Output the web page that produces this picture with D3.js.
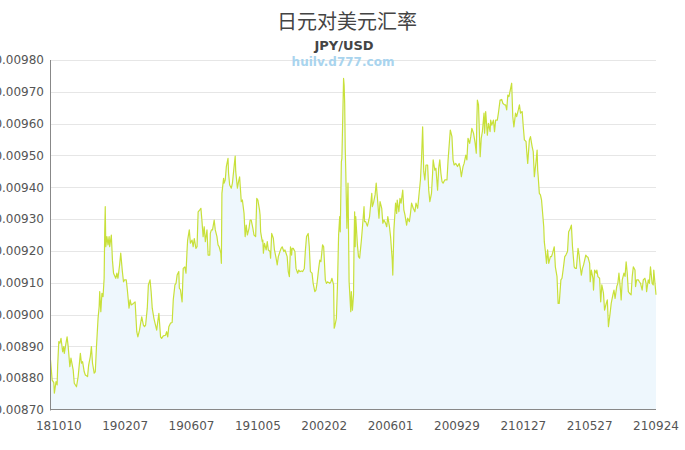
<!DOCTYPE html>
<html><head><meta charset="utf-8">
<script src="https://cdn.jsdelivr.net/npm/d3@7/dist/d3.min.js"></script>
<style>body{margin:0;background:#fff}svg{display:block}</style>
</head><body>
<svg id="chart" width="685" height="450"></svg>
<script>
// ---- data ----
const startDate = "2018-09-25";
const dayOffsets = [
0,3,6,7,10,12,13,15,17,19,22,24,25,28,30,32,35,37,41,43,47,50,54,56,58,61,63,67,69,72,74,76,79,81,83,86,88,89,91,93,95,97,98,99,100,102,104,106,107,110,112,114,118,120,122,125,127,130,132,134,137,139,142,144,146,150,153,156,158,161,163,165,168,170,172,175,177,
180,182,184,187,189,192,196,199,201,204,208,210,212,214,217,220,222,225,227,229,232,233,235,238,240,243,245,247,248,251,253,256,258,260,263,265,267,270,272,274,276,278,280,283,285,288,289,291,293,296,298,301,303,305,308,309,310,313,314,316,318,321,322,324,327,329,332,334,335,338,340,342,345,347,350,352,354,356,359,361,363,366,368,371,373,
375,378,379,380,383,384,385,387,390,392,394,397,398,400,403,405,408,410,412,415,417,419,422,424,428,430,432,434,436,437,439,442,444,447,449,451,454,456,459,461,463,466,468,470,473,475,478,480,482,485,487,489,492,494,497,499,501,505,507,509,512,513,514,517,519,521,523,524,526,527,530,531,532,533,534,536,538,540,543,544,546,548,549,550,551,552,555,557,559,562,564,567,568,570,
573,575,577,581,582,584,587,589,591,594,596,599,601,603,606,608,610,613,615,618,619,621,624,626,627,630,632,634,637,639,641,644,646,649,651,653,656,659,661,664,666,669,671,673,675,677,679,682,684,686,689,691,692,695,697,700,702,704,706,708,710,713,715,717,719,721,723,726,728,730,733,736,739,741,743,746,748,751,753,755,758,760,762,765,
768,770,771,772,774,777,779,781,784,785,787,790,792,795,796,798,801,803,805,808,810,813,816,818,821,823,825,827,829,831,834,835,836,838,841,843,846,848,850,853,855,857,860,861,863,866,868,871,873,875,878,880,881,882,884,886,888,892,893,895,897,899,901,904,906,908,911,913,916,918,920,923,925,927,930,932,935,937,939,942,944,947,949,951,
954,956,958,960,962,964,966,968,970,972,975,976,978,981,982,984,987,988,990,993,995,997,1000,1002,1005,1007,1008,1009,1012,1014,1017,1019,1021,1024,1026,1028,1031,1032,1034,1037,1039,1041,1043,1045,1047,1050,1052,1054,1057,1058,1060,1063,1065,1067,1070,1072,1075,1077,1078,1081,1083,1085,1088,1090,1091,1095
];
const rates = [
0.008857,0.008794,0.008786,0.008753,0.008789,0.008779,0.008841,0.008915,0.008910,0.008925,0.008883,0.008899,0.008878,0.008910,0.008930,0.008899,0.008836,0.008863,0.008826,0.008784,0.008773,0.008805,0.008878,0.008847,0.008852,0.008820,0.008810,0.008805,0.008841,0.008868,0.008899,0.008847,0.008816,0.008820,0.008894,0.008988,0.009025,0.009072,0.009009,0.009067,0.009056,0.009114,0.009255,0.009339,0.009213,0.009245,0.009219,0.009245,0.009213,0.009250,0.009171,0.009130,0.009114,0.009130,0.009114,0.009156,0.009193,0.009135,0.009103,0.009109,0.009109,0.009077,0.009020,0.009046,0.009030,0.009035,0.009040,0.008946,0.008930,0.008951,0.008973,0.008993,0.008967,0.008962,0.008967,0.009020,0.009093,
0.009109,0.009072,0.009020,0.008988,0.008973,0.008951,0.009004,0.008930,0.008925,0.008933,0.008935,0.008946,0.008930,0.008962,0.008973,0.008975,0.009046,0.009093,0.009098,0.009124,0.009135,0.009083,0.009078,0.009040,0.009145,0.009150,0.009130,0.009203,0.009234,0.009266,0.009224,0.009234,0.009213,0.009239,0.009208,0.009213,0.009323,0.009329,0.009334,0.009292,0.009245,0.009276,0.009229,0.009266,0.009187,0.009187,0.009255,0.009266,0.009266,0.009297,0.009266,0.009245,0.009219,0.009213,0.009193,0.009161,0.009381,0.009428,0.009413,0.009423,0.009465,0.009491,0.009444,0.009407,0.009397,0.009413,0.009465,0.009498,0.009449,0.009397,0.009418,0.009433,0.009355,0.009360,0.009318,0.009245,0.009281,0.009250,0.009271,0.009297,0.009297,0.009271,0.009250,0.009245,0.009365,
0.009360,0.009329,0.009313,0.009260,0.009229,0.009234,0.009193,0.009224,0.009203,0.009229,0.009203,0.009198,0.009177,0.009255,0.009240,0.009203,0.009177,0.009156,0.009182,0.009198,0.009208,0.009213,0.009198,0.009203,0.009182,0.009135,0.009119,0.009213,0.009187,0.009208,0.009208,0.009198,0.009145,0.009130,0.009140,0.009135,0.009137,0.009135,0.009145,0.009203,0.009245,0.009255,0.009213,0.009135,0.009130,0.009098,0.009072,0.009077,0.009098,0.009145,0.009171,0.009166,0.009219,0.009213,0.009109,0.009098,0.009103,0.009098,0.009103,0.009114,0.009093,0.008957,0.008962,0.008988,0.009093,0.009250,0.009308,0.009260,0.009480,0.009491,0.009742,0.009721,0.009664,0.009522,0.009449,0.009271,0.009413,0.009103,0.009009,0.009072,0.009014,0.009062,0.009229,0.009323,0.009213,0.009308,0.009219,0.009182,0.009177,0.009229,0.009271,0.009339,0.009292,0.009292,
0.009278,0.009292,0.009308,0.009381,0.009339,0.009350,0.009376,0.009413,0.009371,0.009303,0.009355,0.009334,0.009287,0.009297,0.009287,0.009276,0.009308,0.009276,0.009245,0.009171,0.009124,0.009266,0.009350,0.009318,0.009360,0.009323,0.009365,0.009350,0.009391,0.009329,0.009313,0.009281,0.009303,0.009292,0.009318,0.009350,0.009334,0.009323,0.009350,0.009334,0.009370,0.009423,0.009491,0.009590,0.009449,0.009423,0.009470,0.009470,0.009391,0.009355,0.009381,0.009444,0.009486,0.009454,0.009460,0.009391,0.009460,0.009486,0.009444,0.009418,0.009413,0.009423,0.009423,0.009423,0.009486,0.009533,0.009580,0.009559,0.009486,0.009470,0.009475,0.009465,0.009475,0.009460,0.009433,0.009465,0.009475,0.009501,0.009486,0.009554,0.009538,0.009559,0.009585,0.009570,
0.009538,0.009507,0.009611,0.009674,0.009660,0.009496,0.009554,0.009575,0.009633,0.009570,0.009638,0.009564,0.009601,0.009575,0.009611,0.009595,0.009611,0.009575,0.009611,0.009611,0.009633,0.009674,0.009676,0.009664,0.009659,0.009659,0.009643,0.009690,0.009685,0.009701,0.009727,0.009674,0.009622,0.009590,0.009633,0.009622,0.009643,0.009659,0.009633,0.009638,0.009590,0.009549,0.009544,0.009517,0.009475,0.009549,0.009559,0.009528,0.009512,0.009433,0.009480,0.009517,0.009454,0.009433,0.009381,0.009376,0.009360,0.009276,0.009229,0.009198,0.009161,0.009203,0.009161,0.009182,0.009182,0.009193,0.009213,0.009150,0.009119,0.009035,0.009035,0.009109,0.009114,0.009140,0.009182,0.009187,0.009198,0.009260,0.009266,0.009281,0.009213,0.009150,0.009145,0.009145,
0.009208,0.009187,0.009150,0.009124,0.009145,0.009156,0.009171,0.009187,0.009182,0.009180,0.009161,0.009103,0.009140,0.009114,0.009077,0.009140,0.009130,0.009140,0.009119,0.009114,0.009040,0.009093,0.009067,0.009014,0.009035,0.009046,0.009004,0.008962,0.009004,0.009035,0.009062,0.009077,0.009051,0.009088,0.009098,0.009130,0.009072,0.009046,0.009109,0.009130,0.009120,0.009166,0.009130,0.009072,0.009067,0.009062,0.009119,0.009150,0.009140,0.009088,0.009109,0.009109,0.009103,0.009098,0.009077,0.009109,0.009114,0.009098,0.009072,0.009109,0.009098,0.009150,0.009098,0.009093,0.009140,0.009062
];
const tickLabels = ["181010","190207","190607","191005","200202","200601","200929","210127","210527","210924"];
const yTicks = [0.0087,0.0088,0.0089,0.0090,0.0091,0.0092,0.0093,0.0094,0.0095,0.0096,0.0097,0.0098];
const titleText = "日元对美元汇率";
const subtitleText = "JPY/USD";
const watermarkText = "huilv.d777.com";

// ---- drawing ----
(function () {
  const svg = d3.select("#chart");
  const mLeft = 50.5, mRight = 656, mTop = 60, mBottom = 410;
  const t0 = d3.utcParse("%Y-%m-%d")(startDate);
  const parseTick = d3.utcParse("%y%m%d");
  const points = dayOffsets.map((d, i) => ({date: d3.utcDay.offset(t0, d), v: rates[i]}));

  const x = d3.scaleUtc().domain(d3.extent(points, p => p.date)).range([mLeft, mRight]);
  const y = d3.scaleLinear().domain([d3.min(yTicks), d3.max(yTicks)]).range([mBottom, mTop]);

  const font = "'DejaVu Sans', Verdana, sans-serif";

  // gridlines
  svg.append("g").selectAll("line").data(yTicks.slice(1)).join("line")
    .attr("x1", mLeft).attr("x2", mRight)
    .attr("y1", d => Math.round(y(d)) + 0.5).attr("y2", d => Math.round(y(d)) + 0.5)
    .attr("stroke", "#e6e6e6").attr("stroke-width", 1);

  // area + line
  const area = d3.area().x(p => x(p.date)).y0(mBottom).y1(p => y(p.v));
  svg.append("path").datum(points).attr("d", area).attr("fill", "#eef7fd");
  const line = d3.line().x(p => x(p.date)).y(p => y(p.v));
  svg.append("path").datum(points).attr("d", line)
    .attr("fill", "none").attr("stroke", "#c8e03a").attr("stroke-width", 1.2)
    .attr("stroke-linejoin", "round");

  // axis lines
  svg.append("line").attr("x1", 50.5).attr("x2", 50.5).attr("y1", mTop).attr("y2", mBottom + 0.5)
    .attr("stroke", "#888").attr("stroke-width", 1);
  svg.append("line").attr("x1", 50).attr("x2", mRight).attr("y1", mBottom - 0.5).attr("y2", mBottom - 0.5)
    .attr("stroke", "#888").attr("stroke-width", 1);

  // y labels
  const fmt = d3.format(".5f");
  svg.append("g").selectAll("text").data(yTicks).join("text")
    .attr("x", 44).attr("y", d => y(d) + 4.3)
    .attr("text-anchor", "end")
    .attr("font-family", font).attr("font-size", 12).attr("fill", "#555")
    .text(d => fmt(d));

  // x labels
  svg.append("g").selectAll("text").data(tickLabels).join("text")
    .attr("x", d => x(parseTick(d))).attr("y", 430)
    .attr("text-anchor", "middle")
    .attr("font-family", font).attr("font-size", 12).attr("fill", "#555")
    .text(d => d);

  // titles
  svg.append("text").attr("x", 347).attr("y", 29).attr("text-anchor", "middle")
    .attr("font-family", "'Noto Sans CJK SC', sans-serif").attr("font-size", 20).attr("fill", "#444")
    .text(titleText);
  svg.append("text").attr("x", 344).attr("y", 50).attr("text-anchor", "middle")
    .attr("font-family", font).attr("font-weight", "bold").attr("font-size", 13).attr("fill", "#444")
    .text(subtitleText);
  svg.append("text").attr("x", 343).attr("y", 66).attr("text-anchor", "middle")
    .attr("font-family", font).attr("font-weight", "bold").attr("font-size", 12).attr("fill", "#a9d4ee")
    .text(watermarkText);
})();
</script>
</body></html>
